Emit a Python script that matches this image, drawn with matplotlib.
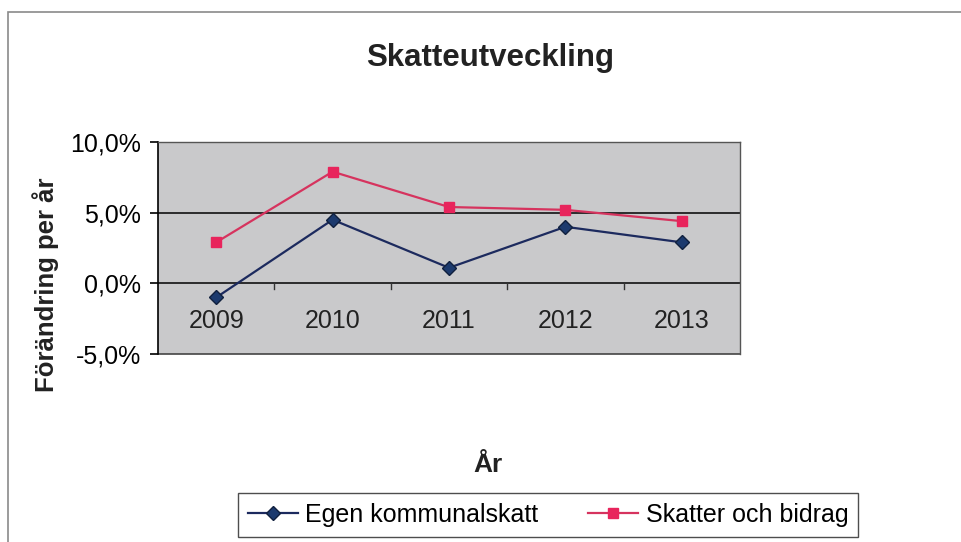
import matplotlib
matplotlib.use('Agg')
from matplotlib import pyplot as plt
from matplotlib.ticker import FuncFormatter
import matplotlib.patches as patches

plt.rcParams['font.family'] = ['Liberation Sans', 'DejaVu Sans']

# data
years = ['2009', '2010', '2011', '2012', '2013']
egen = [-1.0, 4.5, 1.1, 4.0, 2.9]
skatter = [2.9, 7.9, 5.4, 5.2, 4.4]

fig = plt.figure(figsize=(9.62, 5.42), dpi=100)

# outer chart frame
fig.patches.append(patches.Rectangle((8 / 962, -0.05), 1.0, 1 - 12 / 542 + 0.05,
                                     transform=fig.transFigure, fill=False,
                                     edgecolor='#8a8a8a', linewidth=1.2))

ax = fig.add_axes([158 / 962, 1 - 354 / 542, 582 / 962, 212 / 542])
ax.set_facecolor('#c9c9cb')

x = list(range(len(years)))
ax.plot(x, egen, color='#1c2a5e', linewidth=1.6, marker='D', markersize=7,
        markerfacecolor='#1c3a6e', markeredgecolor='#10203e', label='Egen kommunalskatt')
ax.plot(x, skatter, color='#d6335e', linewidth=1.6, marker='s', markersize=7,
        markerfacecolor='#e8245c', markeredgecolor='#e8245c', label='Skatter och bidrag')

ax.set_xlim(-0.5, 4.5)
ax.set_ylim(-5, 10)
ax.set_yticks([-5, 0, 5, 10])
ax.yaxis.set_major_formatter(FuncFormatter(lambda v, p: f'{v:.1f}%'.replace('.', ',')))
ax.tick_params(axis='y', labelsize=18, length=6, width=1.2, direction='out', pad=6)

# gridlines
for yv in [5, 0]:
    ax.axhline(yv, color='#111111', linewidth=1.2, zorder=1)

# category axis crosses at 0
ax.spines['bottom'].set_visible(False)
ax.set_xticks(x)
ax.set_xticklabels([])
ax.tick_params(axis='x', length=0)
for i, yr in enumerate(years):
    ax.text(i, -2.7, yr, ha='center', va='center', fontsize=18, color='#222222')
for b in [0.5, 1.5, 2.5, 3.5]:
    ax.plot([b, b], [0, -0.4], color='#333333', linewidth=1, clip_on=False)

ax.spines['left'].set_linewidth(1.2)
for s in ['top', 'right']:
    ax.spines[s].set_color('#555555')
    ax.spines[s].set_linewidth(1)
ax.plot([-0.5, 4.5], [-5, -5], color='#444444', linewidth=1.2, clip_on=False)

fig.text(490 / 962, 1 - 58 / 542, 'Skatteutveckling', ha='center', va='center',
         fontsize=22.5, fontweight='bold', color='#222222')
fig.text(46 / 962, 1 - 285 / 542, 'Förändring per år', ha='center', va='center',
         rotation=90, fontsize=18.5, fontweight='bold', color='#222222')
fig.text(488 / 962, 1 - 465 / 542, 'År', ha='center', va='center',
         fontsize=19, fontweight='bold', color='#222222')

leg = fig.legend(loc='center', bbox_to_anchor=(548 / 962, 1 - 515 / 542), ncol=2,
                 fontsize=18, frameon=True, fancybox=False, edgecolor='#222222',
                 handlelength=2.0, handletextpad=0.3, columnspacing=2.0, borderpad=0.4)
leg.get_frame().set_linewidth(1.0)

fig.savefig('out.png', dpi=100)
